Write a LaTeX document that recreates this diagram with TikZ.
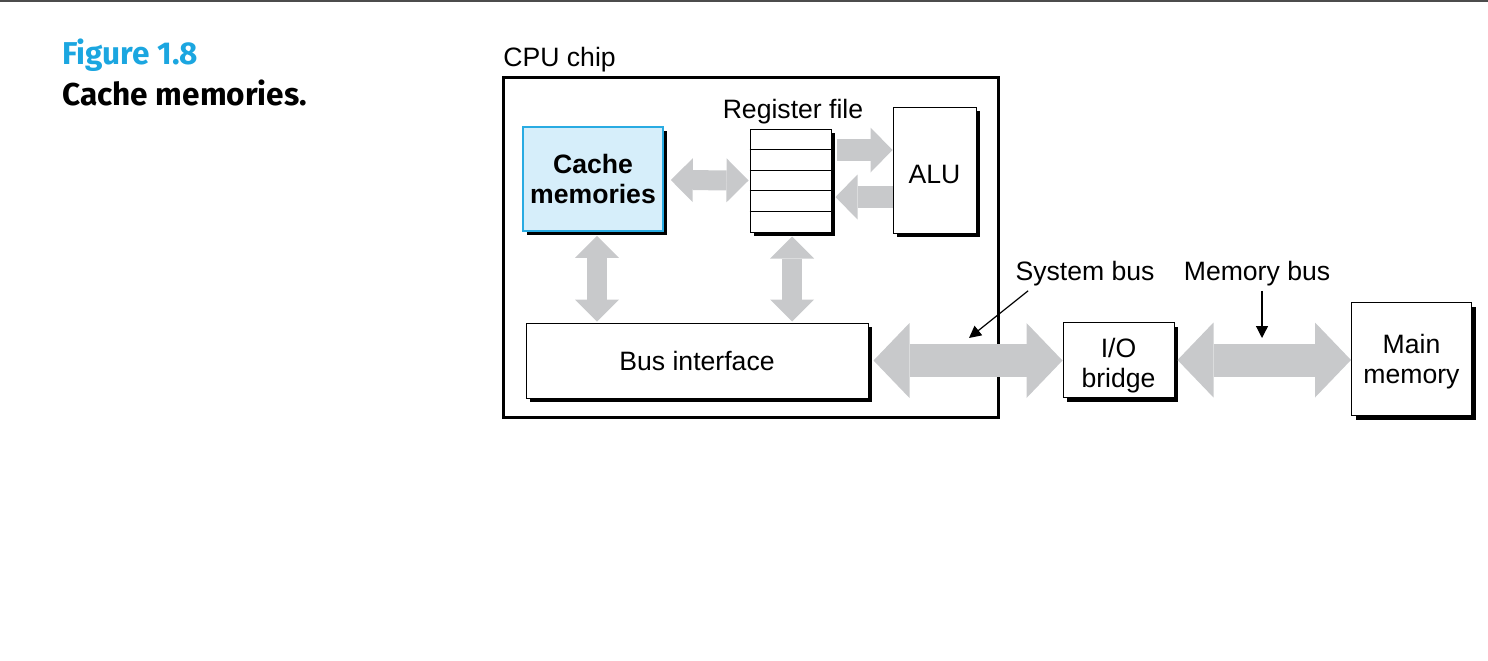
\documentclass[tikz,border=0pt]{standalone}
\usepackage{fontspec}
\setmainfont{Liberation Sans}
\newfontfamily\capfont{Fira Sans}
\usetikzlibrary{arrows.meta,calc,shadows}
\definecolor{cc}{RGB}{41,171,226}
\definecolor{cf}{RGB}{214,238,250}
\definecolor{bc}{RGB}{200,201,203}
\definecolor{fc}{RGB}{27,166,224}
\tikzset{unit/.style={draw,line width=.5pt,fill=white,inner sep=0pt,align=center,
   drop shadow={fill=black,opacity=1,shadow xshift=2pt,shadow yshift=-2pt}},
 cachebox/.style={unit,draw=cc,fill=cf,line width=.8pt,font=\fontsize{13.3}{15}\selectfont\bfseries},
 lbl/.style={inner sep=0pt},
 fat/.style={bc,line width=10pt,{Triangle[length=11pt,width=22pt,line width=0pt]}-{Triangle[length=11pt,width=22pt,line width=0pt]}},
 fatr/.style={bc,line width=11pt,-{Triangle[length=11pt,width=22.5pt,line width=0pt]}},
 fatbig/.style={bc,line width=16.5pt,{Triangle[length=18pt,width=37.5pt,line width=0pt]}-{Triangle[length=18pt,width=37.5pt,line width=0pt]}},
 ptr/.style={line width=.6pt,-{Triangle[length=6pt,width=6pt]}},
 capt/.style={lbl,anchor=west,font=\capfont\fontsize{15.8}{18}\selectfont\bfseries},
 every node/.style={font=\fontsize{13.3}{15}\selectfont}}
\begin{document}
\begin{tikzpicture}[x=.5pt,y=-.5pt]
\useasboundingbox (0,0) rectangle (1488,660);
\draw[line width=1pt,black!70] (0,1)--(1488,1);
% caption
\node[capt,text=fc] (fig) at (62,55) {Figure 1.8};
\node[capt] (cap) at (62,93) {Cache memories.};
% chip
\node[draw,line width=1.5pt,minimum width=247.5pt,minimum height=170pt] (cpu) at (750.5,247) {};
\node[lbl,anchor=west] (cpul) at (503,60) {CPU chip};
\node[cachebox,minimum width=70pt,minimum height=52pt] (cache) at (593,179) {Cache\\memories};
\node[unit,minimum width=40.5pt,minimum height=51.5pt] (reg) at (790.5,180.5) {};
\foreach \i in {1,...,4}
  \draw[line width=.5pt] ($(reg.north west)!\i/5!(reg.south west)$) -- ($(reg.north east)!\i/5!(reg.south east)$);
\node[lbl] (regl) at (793,112) {Register file};
\node[unit,minimum width=41.5pt,minimum height=63pt,text height=13.5pt,text depth=0pt] (alu) at (934.5,170) {ALU};
\node[unit,minimum width=171pt,minimum height=37.5pt] (bus) at (697,360.5) {Bus interface};
\node[unit,minimum width=55.5pt,minimum height=37.5pt,text height=30.5pt] (io) at (1118.5,360) {I/O\\bridge};
\node[unit,minimum width=60pt,minimum height=56.5pt,text height=27.5pt] (mem) at (1411.5,359) {Main\\memory};
% buses
\draw[fat] ($(cache.east)+(7,1)$) -- ($(reg.west)+(-1,0)$);
\draw[fatr] ($(reg.east)+(5,-30.5)$) -- ($(alu.west)+(0,-20)$);
\draw[fatr] ($(alu.west)+(0,27)$) -- ($(reg.east)+(4,16.5)$);
\draw[fat] ([xshift=2pt,yshift=-2pt]cache.south) -- ([xshift=2pt,yshift=.5pt]cache.south |- bus.north);
\draw[fat] ([xshift=.75pt,yshift=-2pt]reg.south) -- ([xshift=.75pt,yshift=.5pt]reg.south |- bus.north);
\draw[fatbig] ([xshift=2.5pt]bus.east) -- (bus.east -| io.west);
\draw[fatbig] ([xshift=1.5pt]io.east) -- (io.east -| mem.west);
% labels
\node[lbl] (sb) at (1085,274) {System bus};
\node[lbl] (mb) at (1257,274) {Memory bus};
\coordinate (sbtip) at (969,338);
\coordinate (mbtip) at (1262,338);
\draw[ptr] ($(sb.south west)+(13,4)$) -- (sbtip);
\draw[ptr] ([yshift=-2pt]mb.south -| mbtip) -- (mbtip);
\end{tikzpicture}
\end{document}
